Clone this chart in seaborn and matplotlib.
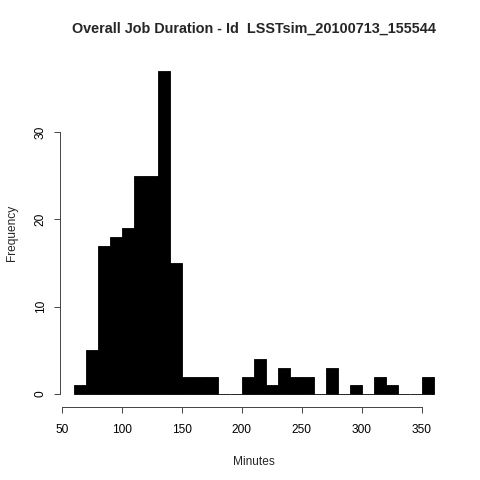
import matplotlib
matplotlib.use("Agg")
import matplotlib.pyplot as plt
import seaborn as sns
import numpy as np

# histogram bins (minutes) and counts
bin_edges = list(range(60, 370, 10))
counts = [1, 5, 17, 18, 19, 25, 25, 37, 15, 2,
          2, 2, 0, 0, 2, 4, 1, 3, 2, 2,
          0, 3, 0, 1, 0, 2, 1, 0, 0, 2]
bin_centers = [e + 5 for e in bin_edges[:-1]]

x_ticks = [50, 100, 150, 200, 250, 300, 350]
y_ticks = [0, 10, 20, 30]
title = "Overall Job Duration - Id  LSSTsim_20100713_155544"

sns.set_style("white")
plt.rcParams['font.family'] = ['Liberation Sans', 'DejaVu Sans']

fig = plt.figure(figsize=(4.8, 4.8), dpi=100)
ax = fig.add_axes([0.1242, 0.1521, 0.809, 0.727])

sns.histplot(x=bin_centers, weights=counts, bins=bin_edges, ax=ax,
             color="black", edgecolor="black", linewidth=0.6, alpha=1.0)

ax.set_xlim(48, 372)
ax.set_ylim(-1.48, 38.48)

ax.set_xticks(x_ticks)
ax.set_yticks(y_ticks)
ax.set_yticklabels([str(v) for v in y_ticks], rotation=90, va="center")
ax.tick_params(axis="both", direction="out", length=4.3, width=0.7,
               bottom=True, left=True,
               colors="#444444", labelcolor="black", labelsize=8.6)
ax.tick_params(axis="x", pad=8)
ax.tick_params(axis="y", pad=5)

for side in ["top", "right"]:
    ax.spines[side].set_visible(False)
ax.spines["left"].set_bounds(0, 30)
ax.spines["bottom"].set_bounds(50, 350)
for side in ["left", "bottom"]:
    ax.spines[side].set_linewidth(0.7)
    ax.spines[side].set_color("#444444")

ax.set_xlabel("Minutes", fontsize=8.6, labelpad=14)
ax.set_ylabel("Frequency", fontsize=8.6, labelpad=12)
ax.set_title(title, fontsize=10.4, fontweight="bold", pad=18)

fig.savefig("out.png", dpi=100)
